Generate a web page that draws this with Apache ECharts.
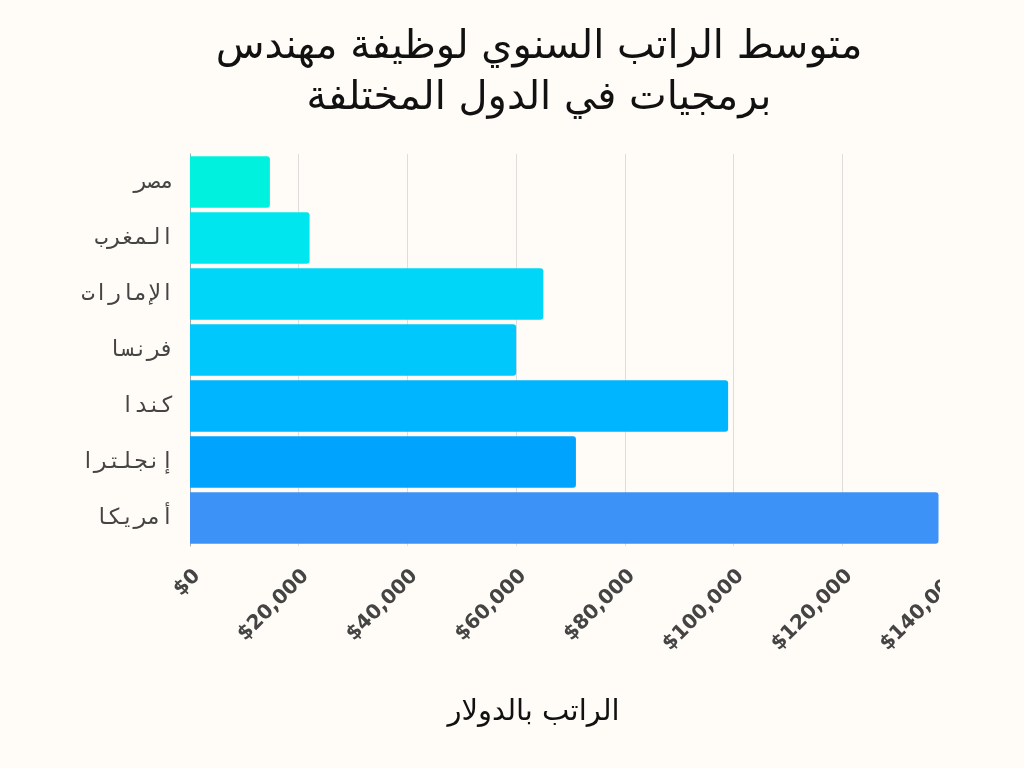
<!DOCTYPE html>
<html>
<head>
<meta charset="utf-8">
<script src="https://cdn.jsdelivr.net/npm/echarts@6/dist/echarts.min.js"></script>
<style>
  html, body { margin: 0; padding: 0; background: #fffcf7; }
  .clip { width: 940px; height: 768px; overflow: hidden; }
  #panel { width: 1024px; height: 768px; }
</style>
</head>
<body>
<div class="clip"><div id="panel"></div></div>
<script>
// 数据
const countries = ['أمريكا', 'إنجلترا', 'كندا', 'فرنسا', 'الإمارات', 'المغرب', 'مصر'];
const salaries = [137700, 71000, 99000, 60000, 65000, 22000, 14700];
const barColors = ['#3d92f8', '#00a4ff', '#00b5ff', '#00c8fd', '#00d6f8', '#00e6ee', '#00f2de'];

const chart = echarts.init(document.getElementById('panel'));

const option = {
  backgroundColor: '#fffcf7',
  title: [
    {
      text: 'متوسط الراتب السنوي لوظيفة مهندس\nبرمجيات في الدول المختلفة',
      left: 534,
      top: 17,
      textAlign: 'center',
      textStyle: {
        fontFamily: 'DejaVu Sans',
        fontSize: 40,
        fontWeight: 'normal',
        color: '#111',
        lineHeight: 51,
      },
    },
  ],
  grid: {
    left: 190,
    right: 73,
    top: 154,
    bottom: 222,
  },
  xAxis: {
    type: 'value',
    min: 0,
    max: 140000,
    interval: 20000,
    name: 'الراتب بالدولار',
    nameLocation: 'middle',
    nameGap: 152,
    nameTextStyle: {
      fontFamily: 'DejaVu Sans',
      fontSize: 29,
      color: '#111',
      padding: [0, 74, 0, 0],
    },
    axisLine: { show: false },
    axisTick: { show: false },
    splitLine: { lineStyle: { color: '#dddddd', width: 1 } },
    axisLabel: {
      rotate: 45,
      margin: 20,
      verticalAlign: 'top',
      fontFamily: 'DejaVu Sans',
      fontSize: 20,
      fontWeight: 'bold',
      color: '#444',
      formatter: function (v) {
        return '$' + v.toLocaleString('en-US');
      },
    },
  },
  yAxis: {
    type: 'category',
    data: countries,
    axisLine: { show: true, lineStyle: { color: '#aaaaaa', width: 1 } },
    axisTick: { show: false },
    axisLabel: {
      margin: 16,
      fontFamily: 'DejaVu Sans Mono',
      fontSize: 22,
      color: '#444',
    },
  },
  series: [
    {
      type: 'bar',
      barCategoryGap: '8%',
      data: salaries.map(function (v, i) {
        return { value: v, itemStyle: { color: barColors[i] } };
      }),
      itemStyle: { borderRadius: [0, 3, 3, 0] },
    },
  ],
};

chart.setOption(option);
</script>
</body>
</html>
